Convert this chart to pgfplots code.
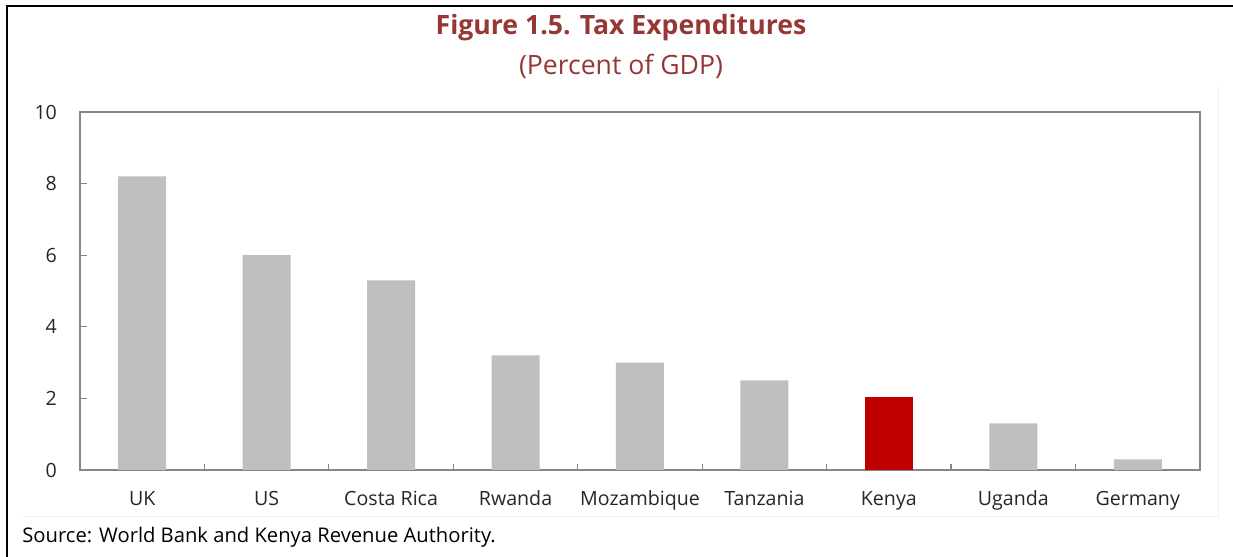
\documentclass[border=0pt]{standalone}
\usepackage{pgfplots}
\pgfplotsset{compat=1.18}
\usepackage{fontspec}
\setmainfont{Open Sans}
\definecolor{titlered}{HTML}{953735}
\definecolor{bargray}{HTML}{BFBFBF}
\definecolor{kenyared}{HTML}{C00000}
\definecolor{axisgray}{HTML}{868686}
\begin{document}
% 1 px of the reference = 0.5pt
\begin{tikzpicture}
\useasboundingbox (0,0) rectangle (616.5pt,278.5pt);
\draw[line width=1.1pt] (3.5pt,0) -- (3.5pt,275.5pt) -- (616.5pt,275.5pt);
\draw[black!6,line width=0.5pt] (11pt,20pt) -- (609pt,20pt) -- (609pt,235pt);
\node[font=\fontsize{13.3}{16}\selectfont\bfseries,text=titlered] at (310.5pt,264.5pt) {Figure 1.5. Tax Expenditures};
\node[font=\fontsize{13.3}{16}\selectfont,text=titlered] at (310.5pt,245.5pt) {(Percent of GDP)};
\node[font=\fontsize{10.1}{12}\selectfont,anchor=west,inner sep=0pt] at (11pt,10pt) {Source: World Bank and Kenya Revenue Authority.};
\begin{axis}[
  at={(40pt,43.5pt)}, anchor=south west,
  scale only axis, width=560pt, height=179pt,
  xmin=-0.5, xmax=8.5, ymin=0, ymax=10,
  axis line style={axisgray, line width=0.8pt},
  xtick={0,...,8},
  xticklabels={UK,US,Costa Rica,Rwanda,Mozambique,Tanzania,Kenya,Uganda,Germany},
  minor xtick={-0.5,0.5,...,8.5},
  ytick={0,2,...,10},
  ytick pos=left, xtick pos=bottom,
  tick align=inside,
  major tick length=3.5pt, minor tick length=3pt,
  x tick style={draw=none},
  minor x tick style={draw=axisgray, line width=0.6pt},
  y tick style={axisgray, line width=0.6pt},
  tick label style={font=\fontsize{9.8}{12}\selectfont, text=black!85},
  /pgf/number format/assume math mode=true,
  yticklabel style={xshift=-8pt},
  xticklabel style={yshift=-7pt},
]
\addplot[ybar, bar width=24pt, fill=bargray, draw=none] coordinates {
  (0,8.2) (1,6.0) (2,5.3) (3,3.2) (4,3.0) (5,2.5) (7,1.3) (8,0.3)
};
\addplot[ybar, bar width=24pt, fill=kenyared, draw=none] coordinates {
  (6,2.05)
};
\end{axis}
\end{tikzpicture}
\end{document}
